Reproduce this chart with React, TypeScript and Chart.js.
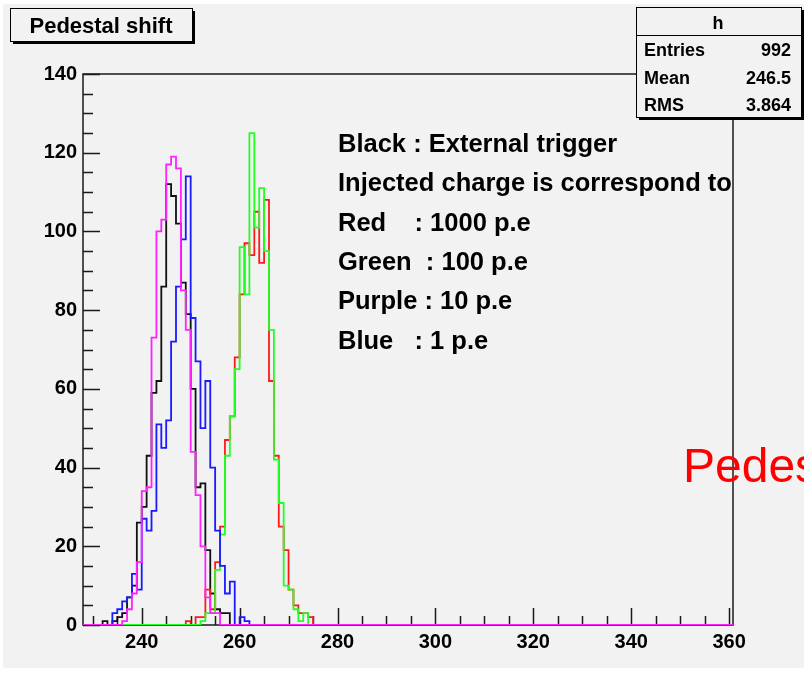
import React, { useEffect, useRef } from 'react';
import { Chart, registerables } from 'chart.js';

Chart.register(...registerables);

// ---- axis ranges / ticks ----
const X_MIN = 228;
const X_MAX = 360.8;
const HIST_LO = 228;
const HIST_HI = 361;
const Y_MIN = 0;
const Y_MAX = 140;
const Y_STEP = 20;
const X_STEP = 20;
const MINOR_STEP = 5;

// ---- histogram contents (bin width 1, first bin given by *Start) ----
const blackStart = 232;
const blackCounts = [1, 0, 1, 2, 3, 7, 10, 26, 30, 43, 59, 62, 86, 112, 109, 102, 87, 79, 60, 35, 36, 19, 8, 4, 3, 3];

const redStart = 249;
const redCounts = [1, 0, 2, 2, 9, 4, 16, 25, 47, 53, 68, 84, 97, 94, 105, 92, 108, 62, 43, 25, 19, 9, 5, 3, 3, 2];

const greenStart = 252;
const greenCounts = [1, 3, 3, 14, 23, 43, 53, 65, 96, 84, 125, 101, 111, 95, 75, 42, 31, 10, 9, 4, 1, 3];

const blueStart = 234;
const blueCounts = [3, 4, 6, 7, 13, 9, 27, 24, 29, 51, 45, 52, 72, 86, 98, 114, 78, 67, 50, 62, 40, 24, 15, 8, 11, 0, 2, 1];

const purpleStart = 236;
const purpleCounts = [1, 4, 8, 16, 34, 35, 73, 100, 103, 117, 119, 116, 85, 75, 44, 33, 20, 7, 3, 3];

// ---- texts ----
const titleText = 'Pedestal shift';
const statsName = 'h';
const statsLabels = ['Entries', 'Mean', 'RMS'];
const statsValues = ['992', '246.5', '3.864'];
const noteLines = [
  'Black : External trigger',
  'Injected charge is correspond to',
  'Red    : 1000 p.e',
  'Green  : 100 p.e',
  'Purple : 10 p.e',
  'Blue   : 1 p.e',
];
const overlayText = 'Pedestal shift';

const FONT = '"Liberation Sans", Arial, Helvetica, sans-serif';

function buildHist(start: number, counts: number[]) {
  // point at the left edge of each bin carries that bin's content (stepped 'before' = horizontal first)
  const pts: { x: number; y: number }[] = [];
  for (let b = HIST_LO; b < HIST_HI; b++) {
    const i = b - start;
    const c = i >= 0 && i < counts.length ? counts[i] : 0;
    pts.push({ x: b, y: c });
  }
  pts.push({ x: HIST_HI, y: 0 });
  return pts;
}

function shadowBox(ctx: CanvasRenderingContext2D, x: number, y: number, w: number, h: number) {
  ctx.fillStyle = '#000';
  ctx.fillRect(x + 3, y + 3, w, h);
  ctx.fillStyle = '#f2f2f2';
  ctx.fillRect(x, y, w, h);
  ctx.strokeStyle = '#000';
  ctx.lineWidth = 1;
  ctx.strokeRect(x + 0.5, y + 0.5, w, h);
}

const decoPlugin = {
  id: 'deco',
  beforeDraw(chart: any) {
    const ctx = chart.ctx as CanvasRenderingContext2D;
    ctx.save();
    ctx.fillStyle = '#ffffff';
    ctx.fillRect(0, 0, chart.width, chart.height);
    ctx.fillStyle = '#f2f2f2';
    ctx.fillRect(3, 4, chart.width - 3, 664);
    ctx.restore();
  },
  beforeDatasetsDraw(chart: any) {
    const ctx = chart.ctx as CanvasRenderingContext2D;
    const a = chart.chartArea;
    const xs = chart.scales.x;
    const ys = chart.scales.y;
    ctx.save();
    ctx.strokeStyle = '#1a1a1a';
    ctx.lineWidth = 1.5;
    ctx.strokeRect(a.left, a.top, a.right - a.left, a.bottom - a.top);
    ctx.beginPath();
    for (let v = Math.ceil(X_MIN / MINOR_STEP) * MINOR_STEP; v <= X_MAX; v += MINOR_STEP) {
      const px = Math.round(xs.getPixelForValue(v)) + 0.5;
      const len = v % X_STEP === 0 ? 17 : 9;
      ctx.moveTo(px, a.bottom);
      ctx.lineTo(px, a.bottom - len);
    }
    for (let v = Y_MIN; v <= Y_MAX; v += MINOR_STEP) {
      const py = Math.round(ys.getPixelForValue(v)) + 0.5;
      const len = v % Y_STEP === 0 ? 17 : 10;
      ctx.moveTo(a.left, py);
      ctx.lineTo(a.left + len, py);
    }
    ctx.stroke();
    ctx.restore();
  },
  afterDraw(chart: any) {
    const ctx = chart.ctx as CanvasRenderingContext2D;
    ctx.save();
    // title box
    shadowBox(ctx, 10, 8, 182, 33);
    ctx.fillStyle = '#000';
    ctx.font = `bold 22px ${FONT}`;
    ctx.textAlign = 'center';
    ctx.textBaseline = 'alphabetic';
    ctx.fillText(titleText, 101, 33);

    // stats box
    shadowBox(ctx, 636, 7, 165, 110);
    ctx.strokeStyle = '#000';
    ctx.lineWidth = 1;
    ctx.beginPath();
    ctx.moveTo(636, 35.5);
    ctx.lineTo(801, 35.5);
    ctx.stroke();
    ctx.font = `bold 18px ${FONT}`;
    ctx.fillStyle = '#000';
    ctx.textAlign = 'center';
    ctx.fillText(statsName, 718, 29);
    statsLabels.forEach((lab, i) => {
      const by = 56 + i * 27.5;
      ctx.textAlign = 'left';
      ctx.fillText(lab, 644, by);
      ctx.textAlign = 'right';
      ctx.fillText(statsValues[i], 791, by);
    });

    // note text
    ctx.font = `bold 25.5px ${FONT}`;
    ctx.textAlign = 'left';
    noteLines.forEach((line, i) => {
      ctx.fillText(line, 338, 152 + i * 39.3);
    });

    // overlay red text
    ctx.font = `48px ${FONT}`;
    ctx.fillStyle = '#ff0000';
    ctx.fillText(overlayText, 683, 482);
    ctx.restore();
  },
};

export default function App() {
  const ref = useRef<HTMLCanvasElement | null>(null);
  useEffect(() => {
    if (!ref.current) return;
    const mk = (label: string, color: string, start: number, counts: number[]) => ({
      label,
      data: buildHist(start, counts),
      borderColor: color,
      backgroundColor: color,
      borderWidth: 1.8,
      pointRadius: 0,
      stepped: 'before' as const,
      fill: false,
      tension: 0,
    });
    const chart = new Chart(ref.current, {
      type: 'line',
      data: {
        datasets: [
          mk('Purple : 10 p.e', '#ff22ff', purpleStart, purpleCounts),
          mk('Blue : 1 p.e', '#1a1aff', blueStart, blueCounts),
          mk('Green : 100 p.e', '#22ff22', greenStart, greenCounts),
          mk('Red : 1000 p.e', '#ff1a1a', redStart, redCounts),
          mk('Black : External trigger', '#111111', blackStart, blackCounts),
        ],
      },
      options: {
        responsive: false,
        animation: false,
        events: [],
        layout: { padding: { left: 8, top: 74, right: 71, bottom: 20 } },
        plugins: { legend: { display: false }, tooltip: { enabled: false }, title: { display: false } },
        scales: {
          x: {
            type: 'linear',
            min: X_MIN,
            max: X_MAX,
            grid: { display: false, drawTicks: false },
            border: { display: false },
            ticks: {
              stepSize: X_STEP,
              includeBounds: false,
              padding: 5,
              color: '#000',
              font: { family: FONT, size: 20, weight: 'bold' },
              maxRotation: 0,
            },
            afterFit: (s: any) => { s.height = 45; },
          },
          y: {
            type: 'linear',
            min: Y_MIN,
            max: Y_MAX,
            grid: { display: false, drawTicks: false },
            border: { display: false },
            ticks: {
              stepSize: Y_STEP,
              padding: 6,
              color: '#000',
              font: { family: FONT, size: 20, weight: 'bold' },
            },
            afterFit: (s: any) => { s.width = 75; },
          },
        },
      },
      plugins: [decoPlugin],
    });
    return () => chart.destroy();
  }, []);
  return (
    <div style={{ position: 'fixed', left: 0, top: 0, width: 804, height: 690, background: '#fff' }}>
      <canvas ref={ref} width={804} height={690} style={{ display: 'block' }} />
    </div>
  );
}
